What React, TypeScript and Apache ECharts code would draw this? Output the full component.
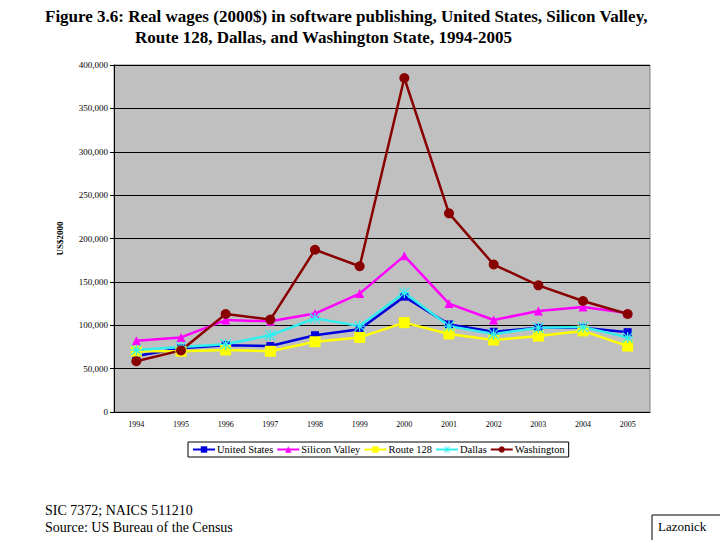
import { useEffect, useRef } from "react";
import * as echarts from "echarts";

const years = ["1994", "1995", "1996", "1997", "1998", "1999", "2000", "2001", "2002", "2003", "2004", "2005"];
const unitedStates = [64500, 73500, 77000, 76000, 88500, 95500, 133000, 101000, 92500, 97000, 97000, 92000];
const siliconValley = [82000, 86000, 106000, 104500, 113500, 136500, 180000, 125000, 106000, 116500, 121000, 114000];
const route128 = [70000, 70000, 71500, 70000, 81000, 86000, 103000, 90000, 83000, 87500, 93500, 76000];
const dallas = [71500, 75000, 78000, 88500, 108000, 99000, 137500, 99000, 90000, 97000, 98000, 86000];
const washington = [58500, 71000, 113000, 106500, 187000, 168000, 385000, 229000, 170000, 146000, 128000, 113000];

const serif = "Liberation Serif";

const asterisk =
  "path://M4.4,0H5.6V10H4.4Z M0,4.4H10V5.6H0Z M0.8,0L10,9.2L9.2,10L0,0.8Z M9.2,0L10,0.8L0.8,10L0,9.2Z";

const makeLine = (name: string, data: number[], color: string, symbol: string, size: number) => ({
  name,
  type: "line",
  data,
  symbol,
  symbolSize: size,
  lineStyle: { color, width: 2.5 },
  itemStyle: { color },
});

export default function App() {
  const chartRef = useRef<HTMLDivElement | null>(null);

  useEffect(() => {
    document.body.style.margin = "0";
    if (!chartRef.current) return;
    const chart = echarts.init(chartRef.current, null, { renderer: "svg" });
    chart.setOption({
      animation: false,
      backgroundColor: "#ffffff",
      textStyle: { fontFamily: serif, color: "#000" },
      grid: {
        left: 114,
        right: 70,
        top: 65,
        bottom: 128,
        show: true,
        backgroundColor: "#c0c0c0",
        borderColor: "#808080",
        borderWidth: 1,
      },
      xAxis: {
        type: "category",
        data: years,
        boundaryGap: true,
        axisLine: { lineStyle: { color: "#000" } },
        axisTick: { lineStyle: { color: "#000" }, length: 4 },
        axisLabel: { color: "#000", fontFamily: serif, fontSize: 8, margin: 8 },
      },
      yAxis: {
        type: "value",
        min: 0,
        max: 400000,
        interval: 50000,
        name: "US$2000",
        nameLocation: "middle",
        nameGap: 50,
        nameTextStyle: { fontFamily: serif, fontSize: 9, fontWeight: "bold", color: "#000" },
        axisLine: { show: true, lineStyle: { color: "#000" } },
        axisTick: { show: true, lineStyle: { color: "#000" }, length: 4 },
        axisLabel: {
          color: "#000",
          fontFamily: serif,
          fontSize: 9,
          margin: 6,
          formatter: (v: number) => v.toLocaleString("en-US"),
        },
        splitLine: { lineStyle: { color: "#000", width: 1 } },
      },
      legend: {
        left: 188,
        top: 442,
        orient: "horizontal",
        borderColor: "#000",
        borderWidth: 1,
        backgroundColor: "#fff",
        padding: [2, 4],
        itemGap: 3,
        itemWidth: 22,
        itemHeight: 8,
        textStyle: { fontFamily: serif, fontSize: 10.5, color: "#000", padding: [0, 0, 0, -3] },
        data: ["United States", "Silicon Valley", "Route 128", "Dallas", "Washington"],
      },
      series: [
        makeLine("United States", unitedStates, "#0000dd", "rect", 8),
        makeLine("Silicon Valley", siliconValley, "#ff00ff", "triangle", 9),
        makeLine("Route 128", route128, "#ffff00", "rect", 11),
        makeLine("Dallas", dallas, "#33eeee", asterisk, 11),
        makeLine("Washington", washington, "#880000", "circle", 10),
      ],
      graphic: [
        {
          type: "text",
          left: 45,
          top: 8,
          style: {
            text: "Figure 3.6: Real wages (2000$) in software publishing, United States, Silicon Valley,",
            fontFamily: serif,
            fontSize: 17,
            fontWeight: "bold",
            fill: "#000",
          },
        },
        {
          type: "text",
          left: 135,
          top: 29,
          style: {
            text: "Route 128, Dallas, and Washington State, 1994-2005",
            fontFamily: serif,
            fontSize: 17,
            fontWeight: "bold",
            fill: "#000",
          },
        },
        {
          type: "text",
          left: 45,
          top: 503,
          style: { text: "SIC 7372; NAICS 511210", fontFamily: serif, fontSize: 14, fill: "#000" },
        },
        {
          type: "text",
          left: 45,
          top: 520,
          style: { text: "Source: US Bureau of the Census", fontFamily: serif, fontSize: 14, fill: "#000" },
        },
        {
          type: "rect",
          shape: { x: 652, y: 515, width: 72, height: 30 },
          style: { fill: "#fff", stroke: "#000", lineWidth: 1 },
        },
        {
          type: "text",
          left: 658,
          top: 520,
          style: { text: "Lazonick", fontFamily: serif, fontSize: 13, fill: "#000" },
        },
      ],
    });
    return () => chart.dispose();
  }, []);

  return <div ref={chartRef} style={{ width: 720, height: 540 }} />;
}
